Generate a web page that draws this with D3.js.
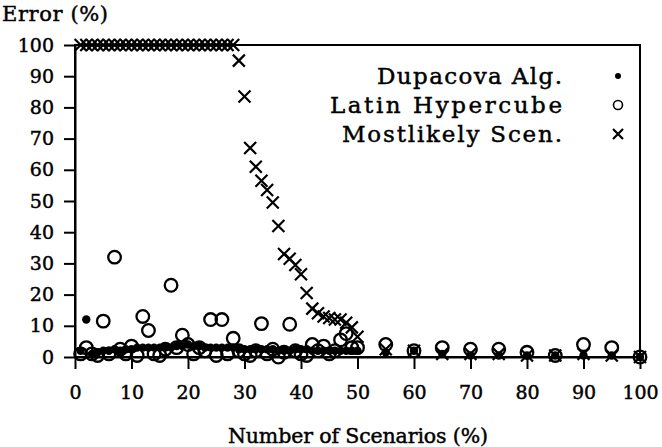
<!DOCTYPE html>
<html>
<head>
<meta charset="utf-8">
<script src="https://cdn.jsdelivr.net/npm/d3@7"></script>
<style>
  html, body { margin: 0; padding: 0; background: #fff; }
  svg { display: block; }
  text { font-family: "DejaVu Serif", "Liberation Serif", serif; fill: #000; stroke: #000; stroke-width: 0.45px; }
</style>
</head>
<body>
<div id="chart"></div>
<script>
// x values: 1..50 step 1, then 55..100 step 5
var X_DENSE = d3.range(1, 51);
var X_SPARSE = [55, 60, 65, 70, 75, 80, 85, 90, 95, 100];

var DUPACOVA_DENSE = [2, 12, 1, 1.5, 2, 2, 2.5, 2, 2.5, 2.5,
  3, 3, 3, 3, 3, 3, 3, 3.5, 3.5, 4,
  3.5, 3.5, 3, 3, 3, 3, 3, 3, 2.5, 2.5,
  2.5, 2.5, 2.5, 2.5, 2.5, 2, 2, 2, 2.5, 2.5,
  2.5, 2, 2, 2, 2, 2, 2, 2, 2, 2];
var DUPACOVA_SPARSE = [1.5, 2, 1, 0.5, 0.5, 0.5, 0.5, 0.5, 0.5, 0];

var LATIN_DENSE = [1, 3, 1, 0.5, 11.5, 1, 32, 2.5, 1, 3.5,
  0.5, 13, 8.5, 1, 0.5, 2.5, 23, 3, 7, 4,
  1, 3, 2, 12, 0.5, 12, 1, 6, 2, 1,
  0.5, 2, 10.7, 1, 2.5, 0, 1.5, 10.5, 2, 1,
  0.5, 4, 2, 3.5, 1, 2, 5.5, 7.5, 3, 3];
var LATIN_SPARSE = [4, 2, 3, 2.5, 2.5, 1.5, 0.5, 4, 3, 0];

var MOSTLIKELY_DENSE = [100, 100, 100, 100, 100, 100, 100, 100, 100, 100,
  100, 100, 100, 100, 100, 100, 100, 100, 100, 100,
  100, 100, 100, 100, 100, 100, 100, 100, 95, 83.5,
  67, 61, 56.5, 53.5, 49.5, 42, 33, 31.5, 29.5, 26.5,
  20.5, 15.5, 14, 13, 12.5, 12, 12, 11, 9.5, 6.5];
var MOSTLIKELY_SPARSE = [2.5, 2, 1, 1, 1, 0.5, 0.5, 1, 0.5, 0];

var X_TICKS = [0, 10, 20, 30, 40, 50, 60, 70, 80, 90, 100];
var Y_TICKS = [0, 10, 20, 30, 40, 50, 60, 70, 80, 90, 100];
var LEGEND = ["Dupacova Alg.", "Latin Hypercube", "Mostlikely Scen."];

function pts(xs, ys) { return xs.map(function (x, i) { return { x: x, y: ys[i] }; }); }
var X_ALL = X_DENSE.concat(X_SPARSE);
var dupacova = pts(X_ALL, DUPACOVA_DENSE.concat(DUPACOVA_SPARSE));
var latin = pts(X_ALL, LATIN_DENSE.concat(LATIN_SPARSE));
var mostlikely = pts(X_ALL, MOSTLIKELY_DENSE.concat(MOSTLIKELY_SPARSE));

var W = 662, H = 447;
var svg = d3.select("#chart").append("svg").attr("width", W).attr("height", H);
var x = d3.scaleLinear().domain([0, 100]).range([75, 640]);
var y = d3.scaleLinear().domain([0, 100]).range([357, 45]);

// frame
svg.append("rect").attr("x", x(0)).attr("y", y(100)).attr("width", x(100) - x(0)).attr("height", y(0) - y(100))
  .attr("fill", "none").attr("stroke", "#000").attr("stroke-width", 2);

var gx = svg.append("g").attr("transform", "translate(0," + y(0) + ")")
  .call(d3.axisBottom(x).tickValues(X_TICKS).tickSize(12).tickSizeOuter(0).tickPadding(17).tickFormat(d3.format("d")));
var gy = svg.append("g").attr("transform", "translate(" + x(0) + ",0)")
  .call(d3.axisLeft(y).tickValues(Y_TICKS).tickSize(11).tickSizeOuter(0).tickPadding(10).tickFormat(d3.format("d")));
[gx, gy].forEach(function (g) {
  g.select(".domain").attr("stroke", "#000").attr("stroke-width", 2);
  g.selectAll(".tick line").attr("stroke", "#000").attr("stroke-width", 2);
  g.selectAll(".tick text").attr("fill", "#000").style("font-family", "DejaVu Serif, serif").style("font-size", "19px");
});

svg.append("text").attr("x", 2).attr("y", 21).style("font-size", "21px")
  .attr("textLength", 106).attr("lengthAdjust", "spacing").text("Error (%)");
svg.append("text").attr("x", 228).attr("y", 443)
  .style("font-size", "20.5px").attr("textLength", 260).attr("lengthAdjust", "spacing")
  .text("Number of Scenarios (%)");

// markers
function cross(g, cx, cy, s) {
  g.append("path").attr("d", "M" + (cx - s) + "," + (cy - s) + "L" + (cx + s) + "," + (cy + s) +
    "M" + (cx - s) + "," + (cy + s) + "L" + (cx + s) + "," + (cy - s))
    .attr("stroke", "#000").attr("stroke-width", 2.2).attr("fill", "none");
}
var marks = svg.append("g");
latin.forEach(function (d) {
  marks.append("circle").attr("cx", x(d.x)).attr("cy", y(d.y)).attr("r", 6.3)
    .attr("fill", "none").attr("stroke", "#000").attr("stroke-width", 2.3);
});
mostlikely.forEach(function (d) { cross(marks, x(d.x), y(d.y), 6); });
dupacova.forEach(function (d) {
  marks.append("circle").attr("cx", x(d.x)).attr("cy", y(d.y)).attr("r", 4.2).attr("fill", "#000");
});

// legend (text widths)
var LEG_Y = [76, 105, 134];
var LEG_X0 = [377, 330, 342];
LEGEND.forEach(function (name, i) {
  svg.append("text").attr("x", LEG_X0[i]).attr("y", LEG_Y[i]).attr("dy", "0.36em")
    .style("font-size", "23px").attr("textLength", 562 - LEG_X0[i]).attr("lengthAdjust", "spacing").text(name);
});
svg.append("circle").attr("cx", 618).attr("cy", LEG_Y[0]).attr("r", 3).attr("fill", "#000");
svg.append("circle").attr("cx", 618).attr("cy", LEG_Y[1]).attr("r", 4.5).attr("fill", "none")
  .attr("stroke", "#000").attr("stroke-width", 1.6);
cross(svg, 618, LEG_Y[2], 5);
</script>
</body>
</html>
